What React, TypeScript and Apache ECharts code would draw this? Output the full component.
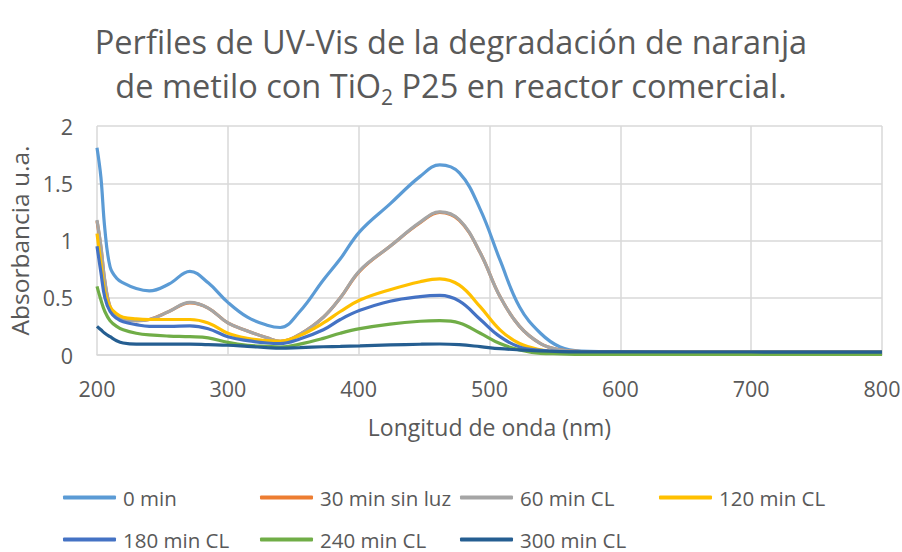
import React, { useEffect, useRef } from "react";
import * as echarts from "echarts";

const wavelengths = [200, 203, 206, 210, 215, 220, 230, 240, 255, 271, 285, 300, 315, 330, 340, 355, 373, 386, 401, 424, 447, 462, 477, 493, 508, 523, 539, 554, 570, 600, 700, 800];

const min0 = [1.81, 1.55, 1.10, 0.77, 0.67, 0.63, 0.58, 0.56, 0.62, 0.73, 0.63, 0.46, 0.33, 0.26, 0.24, 0.38, 0.655, 0.84, 1.08, 1.32, 1.56, 1.66, 1.59, 1.27, 0.83, 0.42, 0.19, 0.07, 0.035, 0.03, 0.03, 0.03];
const min30 = [1.17, 0.94, 0.64, 0.42, 0.33, 0.31, 0.30, 0.31, 0.38, 0.455, 0.41, 0.28, 0.21, 0.15, 0.12, 0.18, 0.33, 0.50, 0.735, 0.95, 1.155, 1.245, 1.175, 0.89, 0.51, 0.25, 0.10, 0.045, 0.03, 0.025, 0.025, 0.025];
const min60 = [1.18, 0.95, 0.65, 0.42, 0.33, 0.31, 0.30, 0.31, 0.38, 0.46, 0.41, 0.28, 0.21, 0.15, 0.12, 0.18, 0.33, 0.50, 0.74, 0.95, 1.16, 1.25, 1.18, 0.89, 0.51, 0.25, 0.10, 0.045, 0.03, 0.025, 0.025, 0.025];
const min120 = [1.06, 0.80, 0.55, 0.42, 0.36, 0.33, 0.315, 0.31, 0.31, 0.31, 0.28, 0.19, 0.145, 0.125, 0.12, 0.17, 0.28, 0.38, 0.48, 0.57, 0.64, 0.665, 0.61, 0.42, 0.22, 0.10, 0.045, 0.025, 0.025, 0.025, 0.025, 0.025];
const min180 = [0.95, 0.72, 0.50, 0.38, 0.32, 0.29, 0.265, 0.25, 0.25, 0.255, 0.23, 0.16, 0.125, 0.105, 0.10, 0.14, 0.22, 0.31, 0.39, 0.47, 0.51, 0.52, 0.47, 0.31, 0.16, 0.07, 0.04, 0.03, 0.025, 0.025, 0.025, 0.025];
const min240 = [0.60, 0.48, 0.38, 0.30, 0.25, 0.22, 0.19, 0.175, 0.165, 0.16, 0.15, 0.11, 0.085, 0.075, 0.07, 0.095, 0.145, 0.19, 0.23, 0.27, 0.295, 0.30, 0.28, 0.19, 0.10, 0.045, 0.015, 0.01, 0.005, 0.005, 0.005, 0.005];
const min300 = [0.25, 0.22, 0.19, 0.16, 0.125, 0.105, 0.095, 0.095, 0.095, 0.095, 0.09, 0.085, 0.075, 0.065, 0.06, 0.065, 0.072, 0.075, 0.08, 0.088, 0.094, 0.096, 0.09, 0.073, 0.055, 0.045, 0.035, 0.03, 0.028, 0.027, 0.026, 0.025];

const seriesNames = ["0 min", "30 min sin luz", "60 min CL", "120 min CL", "180 min CL", "240 min CL", "300 min CL"];
const seriesValues = [min0, min30, min60, min120, min180, min240, min300];
const colors = ["#5B9BD5", "#ED7D31", "#A5A5A5", "#FFC000", "#4472C4", "#70AD47", "#255E91"];

const FONT = "'Open Sans', sans-serif";
const TXT = "#595959";

export default function App() {
  const ref = useRef<HTMLDivElement>(null);
  useEffect(() => {
    const chart = echarts.init(ref.current!, null, { renderer: "svg" });
    const legendPos = [
      [63, 487], [260, 487], [460, 487], [659, 487],
      [63, 529], [260, 529], [460, 529],
    ];
    chart.setOption({
      animation: false,
      backgroundColor: "#ffffff",
      graphic: [
        {
          type: "text",
          x: 451,
          y: 19,
          style: {
            text: "Perfiles de UV-Vis de la degradación de naranja\nde metilo con TiO{sub|2} P25 en reactor comercial.",
            textAlign: "center",
            textVerticalAlign: "top",
            fontFamily: FONT,
            fontSize: 32.5,
            fill: TXT,
            lineHeight: 44,
            rich: {
              sub: { fontFamily: FONT, fontSize: 21, fill: TXT, verticalAlign: "bottom", lineHeight: 14 },
            },
          },
        },
      ],
      legend: legendPos.map((p, i) => ({
        left: p[0],
        top: p[1],
        padding: 0,
        data: [seriesNames[i]],
        icon: "roundRect",
        itemWidth: 53,
        itemHeight: 4,
        textStyle: { fontFamily: FONT, fontSize: 20.5, lineHeight: 20, color: TXT, padding: [0, 0, 0, 2] },
      })),
      grid: { left: 97, right: 20, top: 126, bottom: 197, containLabel: false, outerBoundsMode: "none" },
      xAxis: {
        type: "value",
        min: 200,
        max: 800,
        interval: 100,
        name: "Longitud de onda (nm)",
        nameLocation: "middle",
        nameGap: 60,
        nameTextStyle: { fontFamily: FONT, fontSize: 23, color: TXT },
        axisLine: { show: true, lineStyle: { color: "#D9D9D9", width: 1.5 } },
        axisTick: { show: false },
        axisLabel: { fontFamily: FONT, fontSize: 21.5, color: TXT, margin: 22 },
        splitLine: { show: true, lineStyle: { color: "#D9D9D9", width: 1.5 } },
      },
      yAxis: {
        type: "value",
        min: 0,
        max: 2,
        interval: 0.5,
        name: "Absorbancia u.a.",
        nameLocation: "middle",
        nameGap: 64,
        nameRotate: 90,
        nameTextStyle: { fontFamily: FONT, fontSize: 24.5, color: TXT },
        axisLine: { show: false },
        axisTick: { show: false },
        axisLabel: { fontFamily: FONT, fontSize: 21.5, color: TXT, margin: 24 },
        splitLine: { show: true, lineStyle: { color: "#D9D9D9", width: 1.5 } },
      },
      series: seriesNames.map((name, i) => ({
        name,
        type: "line",
        smooth: 0.4,
        symbol: "none",
        color: colors[i],
        lineStyle: { width: 3.2, color: colors[i] },
        data: wavelengths.map((w, j) => [w, seriesValues[i][j]]),
      })),
    });
    return () => chart.dispose();
  }, []);
  return <div ref={ref} style={{ position: "absolute", left: 0, top: 0, width: 902, height: 552 }} />;
}
